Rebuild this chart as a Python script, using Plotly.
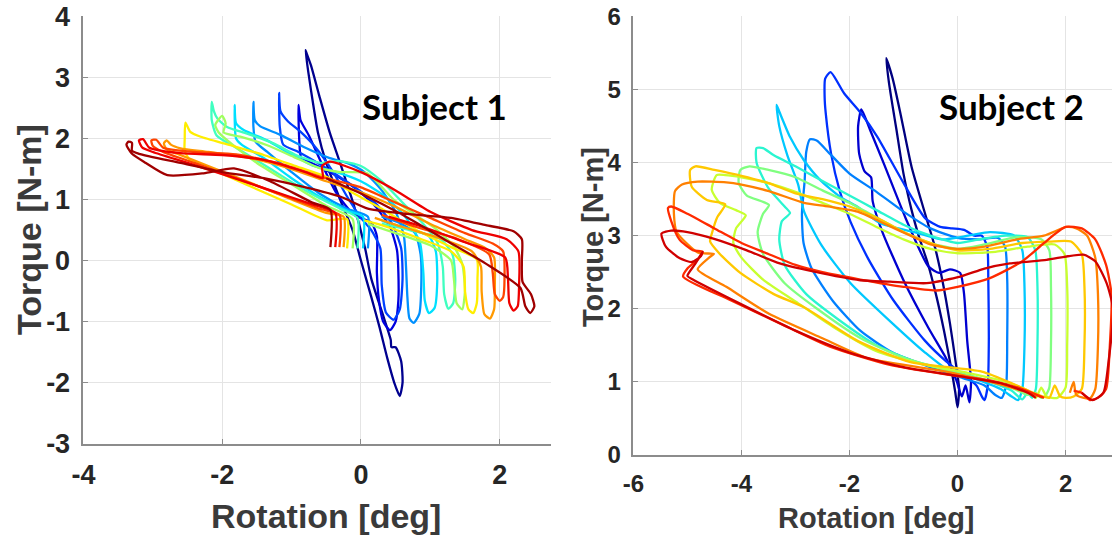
import plotly.graph_objects as go

# ---------------- Subject 1: torque vs rotation loops (one trace per cycle) ----------------
S1_COLORS = ["#00008F", "#0000DF", "#0040FF", "#0090FF", "#00E0FF", "#40FFC0",
             "#A0FF60", "#FFEE00", "#FF9900", "#FF4400", "#EE0000", "#A00000"]

S1_L0 = [(0.56, -2.22), (0.48, -2.0), (0.38, -1.6), (0.27, -1.1), (0.15, -0.6), (0.0, 0.0),
         (-0.12, 0.5), (-0.3, 1.0), (-0.5, 1.6), (-0.62, 2.1), (-0.68, 2.5), (-0.76, 3.1),
         (-0.80, 3.45), (-0.79, 3.42), (-0.72, 3.2), (-0.6, 2.7), (-0.45, 2.1), (-0.3, 1.6),
         (-0.1, 0.9), (0.06, 0.2), (0.15, -0.3), (0.32, -0.9), (0.43, -1.3), (0.44, -1.42),
         (0.5, -1.42), (0.58, -1.65), (0.6, -2.0), (0.56, -2.22)]
S1_L1 = [(-0.9, 2.55), (-0.87, 2.3), (-0.75, 2.05), (-0.55, 1.55), (-0.35, 1.1), (-0.1, 0.75),
         (0.15, 0.62), (0.23, 0.4), (0.23, -0.2), (0.26, -0.65), (0.32, -1.0), (0.42, -1.14),
         (0.5, -1.0), (0.54, -0.65), (0.54, -0.2), (0.52, 0.17), (0.42, 0.55), (0.2, 0.9),
         (-0.1, 1.2), (-0.45, 1.45), (-0.75, 1.62), (-0.86, 1.68), (-0.89, 2.0), (-0.9, 2.55)]
S1_L2 = [(-1.18, 2.75), (-1.16, 2.45), (-1.05, 2.28), (-0.88, 2.12), (-0.65, 1.85), (-0.4, 1.45),
         (-0.2, 1.05), (0.0, 0.7), (0.15, 0.5), (0.28, 0.2), (0.3, -0.4), (0.36, -0.85),
         (0.47, -0.97), (0.56, -0.8), (0.6, -0.3), (0.58, 0.2), (0.45, 0.6), (0.2, 0.95),
         (-0.15, 1.25), (-0.55, 1.55), (-0.9, 1.78), (-1.12, 1.9), (-1.17, 2.2), (-1.18, 2.75)]
S1_L3 = [(0.1, 0.2), (0.1, 0.72), (-0.2, 0.85), (-0.6, 1.1), (-1.0, 1.45), (-1.35, 1.78),
         (-1.52, 1.95), (-1.55, 2.2), (-1.55, 2.6), (-1.53, 2.3), (-1.45, 2.2), (-1.16, 2.06),
         (-0.8, 1.85), (-0.45, 1.68), (-0.2, 1.6), (0.05, 1.45), (0.3, 1.15), (0.5, 0.8),
         (0.62, 0.4), (0.65, -0.1), (0.67, -0.6), (0.7, -0.95), (0.76, -1.02), (0.84, -0.88),
         (0.87, -0.4), (0.86, 0.1), (0.78, 0.45), (0.55, 0.62), (0.3, 0.72)]
S1_L4 = [(0.03, 0.2), (0.03, 0.72), (-0.2, 0.82), (-0.6, 1.05), (-1.0, 1.35), (-1.4, 1.68),
         (-1.72, 1.9), (-1.8, 2.0), (-1.82, 2.55), (-1.8, 2.25), (-1.69, 2.14), (-1.35, 1.97),
         (-1.02, 1.75), (-0.68, 1.55), (-0.35, 1.45), (0.0, 1.3), (0.35, 1.05), (0.65, 0.7),
         (0.85, 0.3), (0.9, -0.2), (0.92, -0.65), (0.98, -0.86), (1.06, -0.78), (1.1, -0.35),
         (1.08, 0.15), (0.98, 0.4), (0.6, 0.55), (0.3, 0.65)]
S1_L5 = [(-0.05, 0.2), (-0.05, 0.7), (-0.3, 0.85), (-0.8, 1.15), (-1.3, 1.5), (-1.8, 1.85),
         (-2.08, 2.05), (-2.15, 2.3), (-2.15, 2.6), (-2.12, 2.45), (-2.07, 2.33), (-1.93, 2.19),
         (-1.64, 2.08), (-1.26, 1.92), (-0.92, 1.72), (-0.58, 1.6), (-0.32, 1.63), (0.0, 1.55),
         (0.3, 1.3), (0.6, 0.95), (0.9, 0.6), (1.1, 0.3), (1.18, -0.1), (1.2, -0.55),
         (1.26, -0.79), (1.33, -0.7), (1.36, -0.3), (1.32, 0.1), (1.15, 0.35), (0.7, 0.5),
         (0.3, 0.6)]
S1_L6 = [(-0.12, 0.2), (-0.12, 0.68), (-0.5, 0.9), (-1.0, 1.25), (-1.5, 1.6), (-1.85, 1.9),
         (-2.05, 2.1), (-2.1, 2.22), (-2.06, 2.3), (-2.0, 2.37), (-1.95, 2.25), (-1.98, 2.1),
         (-1.74, 2.03), (-1.35, 1.89), (-0.97, 1.7), (-0.58, 1.51), (-0.3, 1.45), (0.09, 1.43),
         (0.47, 1.0), (0.76, 0.77), (1.1, 0.5), (1.34, 0.23), (1.46, -0.05), (1.5, -0.48),
         (1.46, -0.8), (1.38, -0.7), (1.34, -0.3), (1.3, 0.0), (1.0, 0.25), (0.5, 0.45),
         (0.1, 0.6)]
S1_L7 = [(-0.2, 0.2), (-0.2, 0.68), (-0.49, 0.66), (-1.0, 0.92), (-1.64, 1.24), (-2.1, 1.47),
         (-2.46, 1.64), (-2.54, 1.8), (-2.54, 2.0), (-2.53, 2.26), (-2.46, 2.11), (-2.31, 2.03),
         (-1.88, 1.89), (-1.4, 1.73), (-0.92, 1.54), (-0.49, 1.37), (-0.1, 1.1), (0.3, 0.85),
         (0.8, 0.5), (1.3, 0.22), (1.67, 0.02), (1.68, -0.3), (1.67, -0.7), (1.62, -0.86),
         (1.55, -0.8), (1.5, -0.5), (1.48, -0.1), (1.3, 0.15), (0.8, 0.38), (0.3, 0.58),
         (0.05, 0.66)]
S1_L8 = [(-0.25, 0.22), (-0.25, 0.72), (-0.5, 0.78), (-1.0, 1.0), (-1.6, 1.28), (-2.2, 1.55),
         (-2.65, 1.75), (-2.8, 1.82), (-2.84, 1.92), (-2.8, 1.97), (-2.74, 1.9), (-2.6, 1.84),
         (-2.2, 1.78), (-1.6, 1.68), (-1.0, 1.5), (-0.5, 1.3), (0.0, 1.12), (0.5, 0.88),
         (1.0, 0.6), (1.5, 0.35), (1.8, 0.2), (1.92, 0.05), (1.93, -0.4), (1.92, -0.8),
         (1.86, -0.95), (1.78, -0.88), (1.74, -0.5), (1.73, -0.1), (1.6, 0.15), (1.1, 0.38),
         (0.6, 0.55), (0.2, 0.7)]
S1_L9 = [(-0.31, 0.22), (-0.31, 0.75), (-0.6, 0.85), (-1.2, 1.1), (-1.8, 1.35), (-2.4, 1.6),
         (-2.85, 1.78), (-3.0, 1.88), (-3.02, 1.97), (-2.95, 1.98), (-2.85, 1.85), (-2.4, 1.78),
         (-1.8, 1.74), (-1.2, 1.6), (-0.6, 1.38), (0.0, 1.2), (0.5, 0.95), (1.0, 0.7),
         (1.5, 0.45), (1.9, 0.28), (2.05, 0.15), (2.07, -0.3), (2.05, -0.6), (2.0, -0.66),
         (1.93, -0.55), (1.9, -0.2), (1.85, 0.1), (1.4, 0.35), (0.8, 0.55), (0.3, 0.75)]
S1_L10 = [(-0.37, 0.22), (-0.37, 0.78), (-0.7, 0.92), (-1.3, 1.15), (-1.9, 1.38), (-2.5, 1.6),
          (-3.0, 1.78), (-3.15, 1.85), (-3.2, 1.97), (-3.14, 1.99), (-3.05, 1.85), (-2.6, 1.76),
          (-2.0, 1.73), (-1.4, 1.65), (-0.8, 1.45), (-0.55, 1.35), (-0.56, 1.55), (-0.45, 1.62),
          (0.0, 1.45), (0.5, 1.15), (1.0, 0.8), (1.6, 0.5), (2.1, 0.35), (2.27, 0.15),
          (2.28, -0.4), (2.26, -0.75), (2.2, -0.82), (2.14, -0.7), (2.12, -0.3), (2.08, 0.05),
          (1.5, 0.3), (0.9, 0.55), (0.4, 0.72)]
S1_L11 = [(-0.44, 0.22), (-0.44, 0.83), (-0.7, 0.95), (-1.31, 1.3), (-1.83, 1.51), (-2.27, 1.43),
          (-2.79, 1.4), (-3.1, 1.6), (-3.3, 1.75), (-3.38, 1.9), (-3.35, 1.95), (-3.3, 1.93),
          (-3.3, 1.8), (-3.2, 1.75), (-2.6, 1.6), (-2.0, 1.45), (-1.4, 1.35), (-0.8, 1.2),
          (-0.3, 1.05), (0.1, 0.85), (0.7, 0.76), (1.3, 0.7), (1.8, 0.58), (2.2, 0.48),
          (2.32, 0.35), (2.32, 0.0), (2.33, -0.35), (2.45, -0.55), (2.5, -0.75), (2.44, -0.86),
          (2.37, -0.75), (2.3, -0.45), (1.8, -0.05), (1.2, 0.35), (0.6, 0.75), (0.0, 1.1),
          (-0.5, 1.35)]

S1_LOOPS = [S1_L0, S1_L1, S1_L2, S1_L3, S1_L4, S1_L5,
            S1_L6, S1_L7, S1_L8, S1_L9, S1_L10, S1_L11]

# ---------------- Subject 2 ----------------
S2_COLORS = ["#000080", "#0000D0", "#0030FF", "#0080FF", "#00C8FF", "#2AF5D0",
             "#80FF80", "#C8FF30", "#FFC800", "#FF8000", "#FF2A00", "#D00000"]

S2_L0 = [(0.0, 0.65), (0.03, 0.9), (-0.04, 1.3), (-0.14, 1.8), (-0.27, 2.35), (-0.42, 2.85),
         (-0.6, 3.3), (-0.85, 3.94), (-1.05, 4.65), (-1.2, 5.15), (-1.32, 5.43), (-1.27, 5.1),
         (-1.17, 4.63), (-1.13, 4.45), (-1.0, 3.85), (-0.85, 3.35), (-0.72, 3.0), (-0.55, 2.62),
         (-0.4, 2.2), (-0.25, 1.7), (-0.12, 1.2), (-0.04, 0.85), (0.0, 0.65)]
S2_L1 = [(0.22, 0.72), (0.25, 1.0), (0.18, 1.56), (0.12, 2.21), (0.05, 2.49), (-0.14, 2.54),
         (-0.34, 2.49), (-0.54, 2.58), (-0.96, 3.24), (-1.36, 3.98), (-1.62, 4.45), (-1.78, 4.73),
         (-1.84, 4.5), (-1.82, 4.12), (-1.72, 3.88), (-1.6, 3.8), (-1.57, 3.47), (-1.39, 3.05),
         (-1.0, 2.39), (-0.54, 1.74), (-0.21, 1.32), (-0.02, 1.02), (0.08, 0.8), (0.15, 0.95),
         (0.22, 0.72)]
S2_L2 = [(0.5, 0.75), (0.56, 0.95), (0.58, 1.6), (0.57, 2.4), (0.55, 2.85), (0.45, 3.0),
         (0.31, 3.0), (0.12, 3.08), (-0.1, 3.1), (-0.32, 3.12), (-0.6, 3.24), (-1.06, 3.8),
         (-1.49, 4.36), (-1.79, 4.68), (-2.1, 4.95), (-2.35, 5.24), (-2.45, 5.15), (-2.46, 4.9),
         (-2.44, 4.68), (-2.34, 4.12), (-2.18, 3.61), (-1.98, 3.19), (-1.65, 2.68), (-1.19, 2.12),
         (-0.6, 1.56), (-0.21, 1.28), (0.1, 1.1), (0.35, 0.95), (0.45, 0.8), (0.5, 0.75)]
S2_L3 = [(0.82, 0.78), (0.9, 0.95), (0.92, 1.6), (0.92, 2.4), (0.88, 2.85), (0.75, 2.97),
         (0.4, 2.95), (0.0, 2.97), (-0.5, 3.1), (-1.0, 3.33), (-1.5, 3.6), (-2.0, 3.85),
         (-2.4, 4.15), (-2.6, 4.3), (-2.73, 4.32), (-2.8, 4.15), (-2.83, 3.75), (-2.88, 3.3),
         (-2.85, 2.9), (-2.7, 2.55), (-2.3, 2.1), (-1.8, 1.7), (-1.2, 1.4), (-0.5, 1.2),
         (0.1, 1.05), (0.5, 0.95), (0.7, 0.82), (0.82, 0.78)]
S2_L4 = [(1.12, 0.75), (1.2, 0.9), (1.24, 1.5), (1.24, 2.3), (1.2, 2.8), (1.05, 3.0),
         (0.6, 3.05), (0.2, 3.0), (-0.3, 2.95), (-0.8, 3.05), (-1.43, 3.17), (-1.86, 3.4),
         (-2.17, 3.53), (-2.54, 3.76), (-2.85, 4.04), (-3.1, 4.35), (-3.3, 4.7), (-3.35, 4.79),
         (-3.3, 4.5), (-3.15, 4.1), (-2.95, 3.7), (-2.84, 3.33), (-2.51, 2.86), (-1.98, 2.35),
         (-1.19, 1.79), (-0.6, 1.4), (-0.21, 1.18), (0.3, 1.05), (0.8, 0.9), (1.0, 0.8),
         (1.12, 0.75)]
S2_L5 = [(1.38, 0.78), (1.45, 0.9), (1.48, 1.5), (1.48, 2.3), (1.44, 2.8), (1.3, 2.98),
         (0.9, 3.0), (0.4, 2.95), (0.0, 2.9), (-0.5, 3.0), (-1.0, 3.15), (-1.5, 3.35),
         (-2.0, 3.55), (-2.5, 3.75), (-3.0, 3.95), (-3.4, 4.1), (-3.6, 4.2), (-3.72, 4.2),
         (-3.72, 4.0), (-3.5, 3.65), (-3.2, 3.4), (-3.1, 3.31), (-3.25, 3.2), (-3.3, 2.95),
         (-3.2, 2.6), (-2.8, 2.2), (-2.2, 1.85), (-1.5, 1.5), (-0.8, 1.28), (-0.1, 1.15),
         (0.6, 1.0), (1.0, 0.88), (1.2, 0.76), (1.3, 0.85), (1.38, 0.78)]
S2_L6 = [(1.62, 0.8), (1.7, 0.92), (1.73, 1.5), (1.73, 2.3), (1.7, 2.8), (1.55, 2.95),
         (1.1, 2.98), (0.5, 2.88), (0.0, 2.82), (-0.5, 2.9), (-1.0, 3.05), (-1.5, 3.25),
         (-2.0, 3.45), (-2.5, 3.62), (-3.0, 3.8), (-3.5, 3.9), (-3.85, 3.95), (-4.02, 3.9),
         (-4.05, 3.72), (-3.9, 3.55), (-3.49, 3.42), (-3.6, 3.3), (-3.7, 3.05), (-3.6, 2.75),
         (-3.2, 2.35), (-2.6, 2.0), (-1.8, 1.6), (-1.0, 1.33), (-0.3, 1.18), (0.4, 1.05),
         (1.0, 0.92), (1.3, 0.82), (1.45, 0.85), (1.55, 0.78), (1.62, 0.8)]
S2_L7 = [(1.85, 0.78), (2.0, 0.92), (2.03, 1.5), (2.03, 2.3), (1.98, 2.75), (1.8, 2.88),
         (1.3, 2.85), (0.7, 2.78), (0.0, 2.76), (-0.5, 2.82), (-1.0, 2.95), (-1.5, 3.12),
         (-2.0, 3.3), (-2.5, 3.45), (-3.0, 3.6), (-3.5, 3.72), (-4.0, 3.8), (-4.3, 3.83),
         (-4.46, 3.83), (-4.55, 3.63), (-4.4, 3.45), (-4.1, 3.35), (-3.92, 3.28), (-4.1, 3.1),
         (-4.15, 2.9), (-4.0, 2.7), (-3.6, 2.4), (-3.0, 2.1), (-2.3, 1.75), (-1.5, 1.42),
         (-0.7, 1.25), (0.2, 1.12), (0.9, 1.0), (1.3, 0.88), (1.45, 0.78), (1.55, 0.92),
         (1.65, 0.8), (1.85, 0.78)]
S2_L8 = [(2.15, 0.8), (2.3, 0.9), (2.35, 1.5), (2.35, 2.3), (2.3, 2.75), (2.1, 2.92),
         (1.7, 2.92), (1.2, 2.9), (0.6, 2.82), (0.0, 2.8), (-0.5, 2.9), (-1.0, 3.05),
         (-1.5, 3.25), (-2.0, 3.4), (-2.5, 3.5), (-3.0, 3.58), (-3.5, 3.72), (-4.0, 3.82),
         (-4.5, 3.9), (-4.85, 3.95), (-4.95, 3.9), (-4.92, 3.67), (-4.64, 3.49), (-4.3, 3.43),
         (-4.45, 3.25), (-4.54, 3.05), (-4.58, 2.92), (-4.4, 2.75), (-4.02, 2.49), (-3.4, 2.2),
         (-2.84, 2.02), (-1.85, 1.56), (-0.87, 1.27), (0.45, 1.14), (1.1, 0.95), (1.5, 0.82),
         (1.7, 0.78), (1.8, 0.95), (1.9, 0.8), (2.0, 0.78), (2.15, 0.8)]
S2_L9 = [(2.08, 0.85), (2.15, 1.0), (2.2, 0.82), (2.45, 0.77), (2.55, 0.9), (2.6, 1.5),
         (2.6, 2.2), (2.55, 2.7), (2.4, 3.0), (2.2, 3.1), (2.02, 3.12), (1.6, 3.0),
         (1.1, 2.95), (0.5, 2.85), (-0.01, 2.82), (-0.5, 2.88), (-0.87, 3.0), (-1.4, 3.18),
         (-1.85, 3.33), (-2.4, 3.4), (-2.84, 3.45), (-3.49, 3.61), (-4.0, 3.7), (-4.28, 3.73),
         (-4.81, 3.74), (-5.1, 3.7), (-5.23, 3.61), (-5.25, 3.3), (-5.2, 3.05), (-4.81, 2.77),
         (-4.51, 2.75), (-4.6, 2.7), (-4.81, 2.54), (-4.28, 2.3), (-3.49, 1.93), (-2.51, 1.6),
         (-1.65, 1.32), (-0.21, 1.14), (0.5, 1.02), (1.1, 0.9), (1.56, 0.79)]
S2_L10 = [(2.15, 0.88), (2.3, 0.85), (2.45, 0.75), (2.6, 0.78), (2.75, 0.9), (2.82, 1.5),
          (2.85, 2.2), (2.75, 2.6), (2.55, 2.95), (2.3, 3.1), (2.0, 3.12), (1.6, 2.9),
          (1.2, 2.65), (0.6, 2.42), (0.0, 2.3), (-0.4, 2.25), (-1.0, 2.3), (-1.8, 2.4),
          (-2.5, 2.5), (-3.0, 2.6), (-3.5, 2.75), (-4.0, 2.9), (-4.5, 3.1), (-5.0, 3.3),
          (-5.3, 3.4), (-5.36, 3.38), (-5.3, 3.2), (-5.15, 2.95), (-4.9, 2.8), (-4.72, 2.78),
          (-4.8, 2.68), (-5.0, 2.55), (-5.08, 2.44), (-4.21, 2.12), (-3.29, 1.8), (-2.36, 1.48),
          (-1.25, 1.23), (-0.2, 1.1), (0.6, 1.02), (1.2, 0.9), (1.6, 0.78)]
S2_L11 = [(2.3, 0.85), (2.5, 0.75), (2.7, 0.85), (2.8, 1.3), (2.88, 2.0), (2.76, 2.35),
          (2.55, 2.65), (2.33, 2.74), (1.65, 2.67), (0.97, 2.62), (0.5, 2.55), (0.05, 2.44),
          (-0.57, 2.35), (-1.25, 2.37), (-1.8, 2.39), (-2.67, 2.51), (-3.29, 2.62), (-3.9, 2.8),
          (-4.52, 2.96), (-5.0, 3.05), (-5.3, 3.07), (-5.48, 3.03), (-5.4, 2.85), (-5.14, 2.69),
          (-4.92, 2.64), (-4.75, 2.72), (-4.72, 2.78), (-4.85, 2.62), (-5.0, 2.45), (-4.9, 2.4),
          (-4.0, 2.06), (-3.0, 1.7), (-2.0, 1.4), (-1.0, 1.2), (0.0, 1.08), (0.8, 0.98),
          (1.3, 0.85), (1.45, 0.78)]

S2_LOOPS = [S2_L0, S2_L1, S2_L2, S2_L3, S2_L4, S2_L5,
            S2_L6, S2_L7, S2_L8, S2_L9, S2_L10, S2_L11]

# Axis ticks (labels use a plain hyphen for negatives)
S1_XTICKS = [-4, -2, 0, 2]
S1_YTICKS = [-3, -2, -1, 0, 1, 2, 3, 4]
S2_XTICKS = [-6, -4, -2, 0, 2]
S2_YTICKS = [0, 1, 2, 3, 4, 5, 6]

W, H = 1112, 535
fig = go.Figure()


def add_loops(loops, colors, xa, ya):
    for pts, col in zip(loops, colors):
        fig.add_trace(go.Scatter(
            x=[p[0] for p in pts], y=[p[1] for p in pts],
            mode="lines", xaxis=xa, yaxis=ya,
            line=dict(color=col, width=2.3, shape="spline", smoothing=0.6),
            hoverinfo="skip", showlegend=False))


add_loops(S1_LOOPS, S1_COLORS, "x", "y")
add_loops(S2_LOOPS, S2_COLORS, "x2", "y2")

GRID = "#e4e4e4"
AXC = "#8c8c8c"
TICKC = "#262626"


def axis_style(size, tickvals, rng, dom, anchor, standoff):
    return dict(
        domain=dom, range=rng, tickvals=tickvals,
        ticktext=[str(v) for v in tickvals], anchor=anchor,
        automargin=False, ticklabelstandoff=standoff,
        showgrid=True, gridcolor=GRID, gridwidth=1, zeroline=False,
        showline=True, linecolor=AXC, linewidth=1.5,
        ticks="inside", ticklen=5, tickcolor=AXC, tickwidth=1,
        tickfont=dict(family="Liberation Sans, Arial", size=size, color=TICKC, weight=700),
        fixedrange=True)


fig.update_layout(
    width=W, height=H,
    margin=dict(l=0, r=0, t=0, b=0, autoexpand=False),
    paper_bgcolor="white", plot_bgcolor="white",
    xaxis=axis_style(27, S1_XTICKS, [-4.002, 2.74], [83.3 / W, 551 / W], "y", 6),
    yaxis=axis_style(27, S1_YTICKS, [-3.002, 4.002], [1 - 443.7 / H, 1 - 16.4 / H], "x", 6),
    xaxis2=axis_style(24, S2_XTICKS, [-6.002, 2.86], [633.3 / W, 1.0], "y2", 6),
    yaxis2=axis_style(24, S2_YTICKS, [-0.002, 6.002], [1 - 455 / H, 1 - 16.4 / H], "x2", 6),
)

TITLE_FONT = "Liberation Sans, Arial"
TITLE_C = "#3a3a3a"


def label(text, xpx, ypx, size, angle=0, family=TITLE_FONT, color=TITLE_C):
    fig.add_annotation(
        text=text, x=xpx / W, y=1 - ypx / H, xref="paper", yref="paper",
        xanchor="center", yanchor="middle", showarrow=False, textangle=angle,
        font=dict(family=family, size=size, color=color, weight=700))


label("Rotation [deg]", 326, 516, 34)
label("Torque [N-m]", 29, 230, 34, angle=-90)
label("Rotation [deg]", 876, 518, 29)
label("Torque [N-m]", 593, 237, 29, angle=-90)
label("Subject 1", 434, 106, 35, family="Lato", color="#000000")
label("Subject 2", 1011, 106, 35, family="Lato", color="#000000")

fig.write_html("out.html")
